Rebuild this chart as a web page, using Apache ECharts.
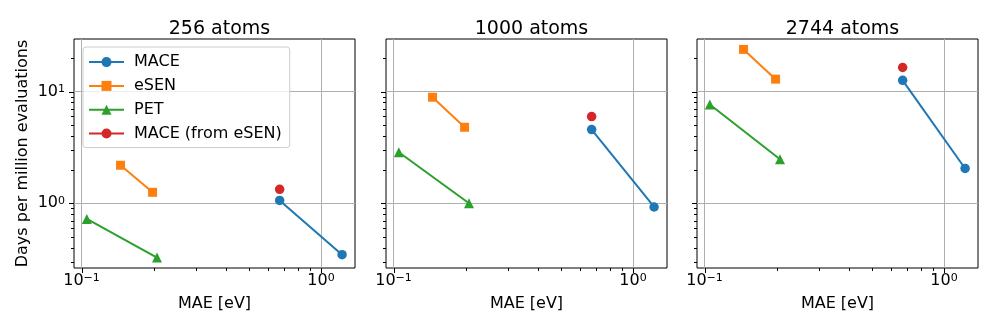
<!DOCTYPE html>
<html>
<head>
<meta charset="utf-8">
<script src="https://cdn.jsdelivr.net/npm/echarts@6/dist/echarts.min.js"></script>
<style>
  html, body { margin: 0; padding: 0; background: #fff; }
  #chart { width: 996px; height: 332px; }
</style>
</head>
<body>
<div id="chart"></div>
<script>
// ---------------- data ----------------
const panelTitles = ['256 atoms', '1000 atoms', '2744 atoms'];
const seriesNames = ['MACE', 'eSEN', 'PET', 'MACE (from eSEN)'];

const maceX = [0.672, 1.225];
const maceY256 = [1.06, 0.347];
const maceY1000 = [4.57, 0.927];
const maceY2744 = [12.6, 2.05];

const esenX = [0.1455, 0.198];
const esenY256 = [2.19, 1.254];
const esenY1000 = [8.89, 4.79];
const esenY2744 = [23.8, 12.9];

const petX = [0.1052, 0.2066];
const petY256 = [0.724, 0.327];
const petY1000 = [2.86, 1.0];
const petY2744 = [7.65, 2.48];

const maceFromEsenX = [0.672];
const maceFromEsenY256 = [1.335];
const maceFromEsenY1000 = [5.97];
const maceFromEsenY2744 = [16.4];

const xMajorTicks = [0.1, 1];
const xMinorTicks = [0.2, 0.3, 0.4, 0.5, 0.6, 0.7, 0.8, 0.9];
const yMajorTicks = [1, 10];
const yMinorTicks = [0.3, 0.4, 0.5, 0.6, 0.7, 0.8, 0.9, 2, 3, 4, 5, 6, 7, 8, 9, 20];

// ---------------- styling / layout ----------------
const FONT = 'DejaVu Sans';
const FS = 16;
const colors = ['#1f77b4', '#ff7f0e', '#2ca02c', '#d62728'];
const symbols = ['circle', 'rect', 'triangle', 'circle'];
const symbolSizes = [9.5, 9, 10, 9.5];
const xRange = [0.0930, 1.387];
const yRange = [0.2638, 29.5];
const grids = [
  { left: 74, top: 39, width: 281, height: 229 },
  { left: 386, top: 39, width: 281, height: 229 },
  { left: 697, top: 39, width: 281, height: 229 }
];

const panelData = [
  [[maceX, maceY256], [esenX, esenY256], [petX, petY256], [maceFromEsenX, maceFromEsenY256]],
  [[maceX, maceY1000], [esenX, esenY1000], [petX, petY1000], [maceFromEsenX, maceFromEsenY1000]],
  [[maceX, maceY2744], [esenX, esenY2744], [petX, petY2744], [maceFromEsenX, maceFromEsenY2744]]
];

function zip(xs, ys) { return xs.map((x, i) => [x, ys[i]]); }

function powLabel(v) {
  const e = Math.log10(v);
  const r = Math.round(e);
  if (Math.abs(e - r) > 1e-6) return '';
  const exp = (r < 0 ? '\u2212' : '') + Math.abs(r);
  return '{b|10}{s|' + exp + '}';
}
const richLabel = {
  b: { fontFamily: FONT, fontSize: FS, color: '#000', lineHeight: 16, padding: [4, 0, 0, 0], verticalAlign: 'bottom' },
  s: { fontFamily: FONT, fontSize: 11, color: '#000', lineHeight: 11, verticalAlign: 'top' }
};

function tickSeries(gi, dir, values, len) {
  return {
    type: 'custom',
    xAxisIndex: gi, yAxisIndex: gi,
    silent: true, clip: false, z: 10,
    data: values.map(v => dir === 'x' ? [v, 1] : [1, v]),
    encode: { x: 0, y: 1 },
    renderItem: function (params, api) {
      const cs = params.coordSys;
      const p = api.coord([api.value(0), api.value(1)]);
      let shape;
      if (dir === 'x') {
        const bottom = cs.y + cs.height;
        const px = Math.round(p[0]) + 0.5;
        shape = { x1: px, y1: bottom, x2: px, y2: bottom + len };
      } else {
        const py = Math.round(p[1]) + 0.5;
        shape = { x1: cs.x - len, y1: py, x2: cs.x, y2: py };
      }
      return { type: 'line', shape: shape, style: { stroke: '#000', lineWidth: 1 } };
    }
  };
}

const xAxes = [], yAxes = [], series = [], titles = [];
grids.forEach((g, gi) => {
  titles.push({
    text: panelTitles[gi],
    left: g.left + g.width / 2,
    top: 15,
    textAlign: 'center',
    textStyle: { fontFamily: FONT, fontSize: 19, fontWeight: 'normal', color: '#000' }
  });
  xAxes.push({
    type: 'log', logBase: 10, gridIndex: gi,
    min: xRange[0], max: xRange[1],
    name: 'MAE [eV]', nameLocation: 'middle', nameGap: 28,
    nameTextStyle: { fontFamily: FONT, fontSize: FS, color: '#000' },
    axisLine: { show: false },
    axisTick: { show: false },
    axisLabel: { show: true, interval: 0, margin: 5, showMinLabel: false, showMaxLabel: false, formatter: powLabel, rich: richLabel },
    splitLine: { show: true, showMinLine: false, showMaxLine: false, lineStyle: { color: '#b0b0b0', width: 1 } },
    minorTick: { show: false }, minorSplitLine: { show: false }
  });
  yAxes.push({
    type: 'log', logBase: 10, gridIndex: gi,
    min: yRange[0], max: yRange[1],
    name: gi === 0 ? 'Days per million evaluations' : '',
    nameLocation: 'middle', nameGap: 43,
    nameTextStyle: { fontFamily: FONT, fontSize: FS, color: '#000' },
    axisLine: { show: false },
    axisTick: { show: false },
    axisLabel: { show: gi === 0, interval: 0, margin: 9, showMinLabel: false, showMaxLabel: false, formatter: powLabel, rich: richLabel },
    splitLine: { show: true, showMinLine: false, showMaxLine: false, lineStyle: { color: '#b0b0b0', width: 1 } },
    minorTick: { show: false }, minorSplitLine: { show: false }
  });
  panelData[gi].forEach((pair, si) => {
    series.push({
      type: 'line',
      name: seriesNames[si],
      xAxisIndex: gi, yAxisIndex: gi,
      data: zip(pair[0], pair[1]),
      symbol: symbols[si],
      symbolSize: symbolSizes[si],
      showSymbol: true,
      color: colors[si],
      lineStyle: { color: colors[si], width: 2 },
      itemStyle: { color: colors[si], borderWidth: 0 },
      z: 3,
      animation: false
    });
  });
  series.push(tickSeries(gi, 'x', xMajorTicks, 5));
  series.push(tickSeries(gi, 'x', xMinorTicks, 3));
  series.push(tickSeries(gi, 'y', yMajorTicks, 5));
  series.push(tickSeries(gi, 'y', yMinorTicks, 3));
});

const option = {
  animation: false,
  backgroundColor: '#fff',
  title: titles,
  grid: grids.map(g => Object.assign({ show: true, borderColor: '#000', borderWidth: 1, backgroundColor: 'transparent' }, g)),
  xAxis: xAxes,
  yAxis: yAxes,
  legend: {
    data: seriesNames,
    orient: 'vertical',
    left: 83, top: 47,
    itemWidth: 35, itemHeight: 12.5, itemGap: 7.6,
    padding: [7, 8, 6, 5],
    selectedMode: false,
    backgroundColor: 'rgba(255,255,255,0.8)',
    borderColor: '#cccccc', borderWidth: 1, borderRadius: 3,
    textStyle: { fontFamily: FONT, fontSize: FS, color: '#000', lineHeight: 16.2, padding: [0, 0, 0, 5] }
  },
  series: series
};

const chart = echarts.init(document.getElementById('chart'), null, { renderer: 'canvas' });
chart.setOption(option);
</script>
</body>
</html>
